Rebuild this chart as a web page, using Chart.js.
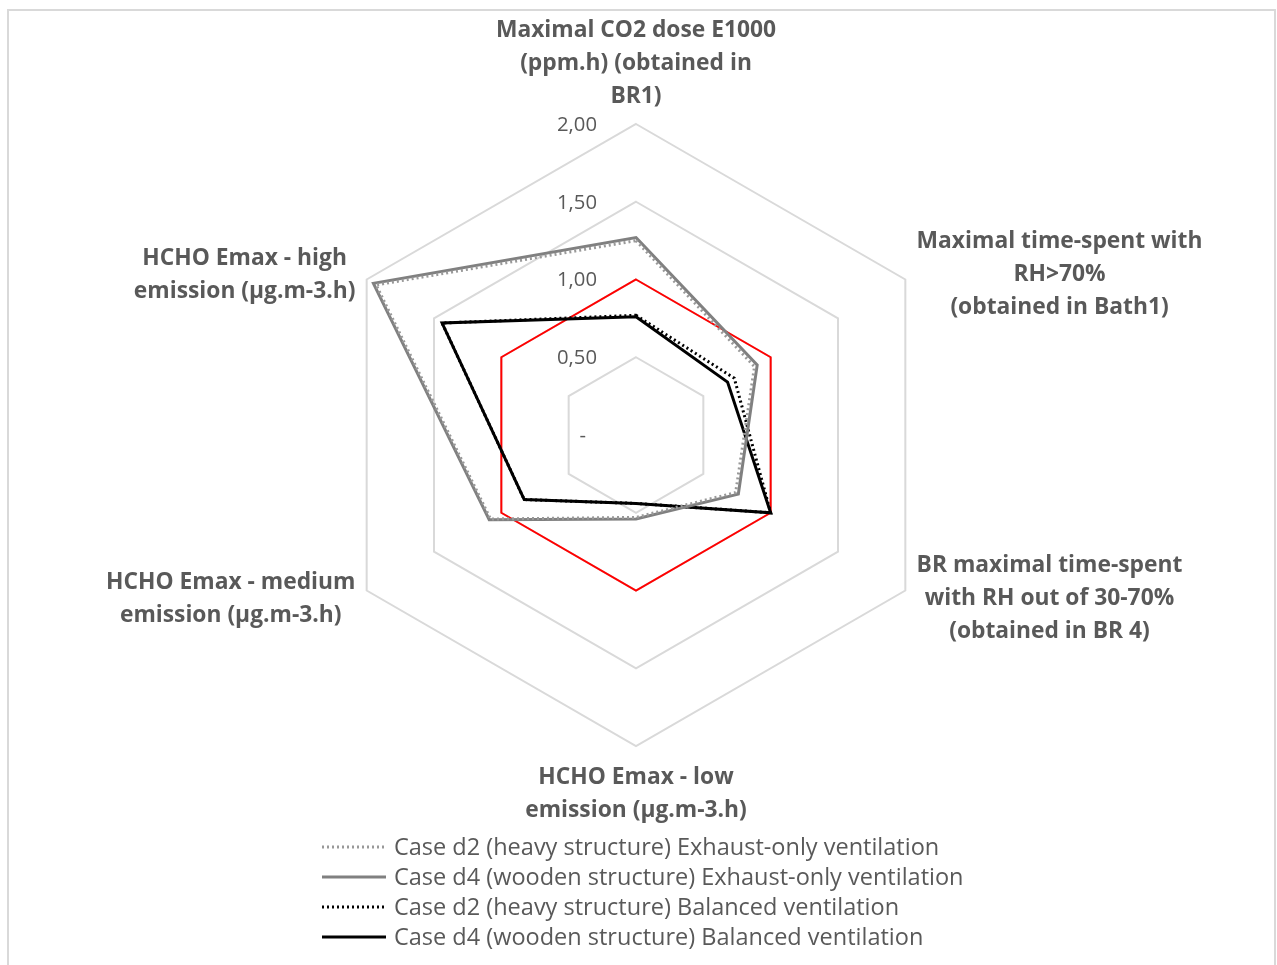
<!DOCTYPE html>
<html>
<head>
<meta charset="utf-8">
<script src="https://cdn.jsdelivr.net/npm/chart.js@4.4.1/dist/chart.umd.min.js"></script>
<style>
  html, body { margin: 0; padding: 0; background: #fff; }
  canvas { display: block; }
</style>
</head>
<body>
<canvas id="radar" width="1277" height="965"></canvas>
<script>
// eixos do radar (linhas quebradas como na figura)
const categories = [
  ['Maximal CO2 dose E1000', '(ppm.h) (obtained in', 'BR1)'],
  ['Maximal time-spent with', 'RH>70%', '(obtained in Bath1)'],
  ['BR maximal time-spent', 'with RH out of 30-70%', '(obtained in BR 4)'],
  ['HCHO Emax - low', 'emission (µg.m-3.h)'],
  ['HCHO Emax - medium', 'emission (µg.m-3.h)'],
  ['HCHO Emax - high', 'emission (µg.m-3.h)']
];

const seriesNames = [
  'Case d2 (heavy structure) Exhaust-only ventilation',
  'Case d4 (wooden structure) Exhaust-only ventilation',
  'Case d2 (heavy structure) Balanced ventilation',
  'Case d4 (wooden structure) Balanced ventilation'
];

// valores
const d2Exhaust  = [1.25, 0.88, 0.74, 0.53, 1.08, 1.93];
const d4Exhaust  = [1.27, 0.90, 0.76, 0.54, 1.09, 1.95];
const d2Balanced = [0.77, 0.73, 1.00, 0.44, 0.83, 1.44];
const d4Balanced = [0.76, 0.68, 1.00, 0.44, 0.83, 1.44];
const threshold  = [1, 1, 1, 1, 1, 1];

const tickValues = [0, 0.5, 1, 1.5, 2];
const tickLabels = ['-', '0,50', '1,00', '1,50', '2,00'];

const textColor = '#595959';
const fontFamily = '"Open Sans", Lato, sans-serif';

// acha o tamanho da fonte para o texto ficar com a largura da figura
function fitFont(c, weight, sample, target) {
  c.font = weight + ' 20px ' + fontFamily;
  const size = 20 * target / c.measureText(sample).width;
  return weight + ' ' + size.toFixed(1) + 'px ' + fontFamily;
}

// moldura cinza em volta do gráfico
const framePlugin = {
  id: 'frame',
  beforeDraw(chart) {
    const c = chart.ctx;
    c.save();
    c.fillStyle = '#fff';
    c.fillRect(0, 0, chart.width, chart.height);
    c.strokeStyle = '#d9d9d9';
    c.lineWidth = 2;
    c.strokeRect(8, 10, 1267, 980);
    c.restore();
  }
};

// rótulos dos eixos, ticks e legenda desenhados à mão
const labelsPlugin = {
  id: 'labels',
  afterDraw(chart) {
    const c = chart.ctx;
    const r = chart.scales.r;
    c.save();

    // ticks à esquerda do eixo vertical
    c.font = fitFont(c, 'normal', '2,00', 40);
    c.fillStyle = textColor;
    c.textAlign = 'right';
    c.textBaseline = 'middle';
    tickValues.forEach((v, i) => {
      const y = r.yCenter - r.getDistanceFromCenterForValue(v) + 1;
      c.fillText(tickLabels[i], i === 0 ? r.xCenter - 50 : r.xCenter - 39, y);
    });

    // nomes dos eixos
    const lh = 33;
    c.font = fitFont(c, 'bold', categories[0][0], 280);
    categories.forEach((lines, i) => {
      const p = r.getPointPosition(i, r.drawingArea + 13);
      const w = Math.max(...lines.map(t => c.measureText(t).width));
      const h = lines.length * lh;
      let cx, top;
      const a = p.angle;
      const cos = Math.cos(a);
      if (Math.abs(cos) < 0.01) {
        cx = p.x;
        top = Math.sin(a) < 0 ? p.y - h : p.y;
      } else {
        cx = cos > 0 ? p.x + w / 2 : p.x - w / 2;
        top = p.y - h / 2;
      }
      c.textAlign = 'center';
      lines.forEach((t, k) => c.fillText(t, cx, top + lh * k + lh / 2 + 2));
    });

    // legenda
    c.font = fitFont(c, 'normal', seriesNames[0], 546);
    c.textAlign = 'left';
    chart.data.datasets.slice(0, 4).forEach((ds, i) => {
      const y = 847 + i * 30;
      c.strokeStyle = ds.borderColor;
      c.lineWidth = ds.borderWidth;
      c.setLineDash(ds.borderDash || []);
      c.beginPath();
      c.moveTo(322, y);
      c.lineTo(386, y);
      c.stroke();
      c.setLineDash([]);
      c.fillStyle = textColor;
      c.fillText(ds.label, 394, y + 1);
    });
    c.restore();
  }
};

const ctx = document.getElementById('radar').getContext('2d');
new Chart(ctx, {
  type: 'radar',
  data: {
    labels: categories,
    datasets: [
      { label: seriesNames[0], data: d2Exhaust, borderColor: '#999999', borderWidth: 3, borderDash: [2, 3] },
      { label: seriesNames[1], data: d4Exhaust, borderColor: '#808080', borderWidth: 3 },
      { label: seriesNames[2], data: d2Balanced, borderColor: '#000000', borderWidth: 3, borderDash: [2, 3] },
      { label: seriesNames[3], data: d4Balanced, borderColor: '#000000', borderWidth: 3 },
      { label: 'limit', data: threshold, borderColor: '#ff0000', borderWidth: 2 }
    ]
  },
  options: {
    responsive: false,
    animation: false,
    layout: { padding: { left: 325, right: 330, top: 124, bottom: 219 } },
    elements: {
      point: { radius: 0, hoverRadius: 0 },
      line: { fill: false, tension: 0, borderJoinStyle: 'miter' }
    },
    plugins: {
      legend: { display: false },
      tooltip: { enabled: false }
    },
    scales: {
      r: {
        min: 0,
        max: 2,
        ticks: { stepSize: 0.5, display: false, showLabelBackdrop: false },
        grid: { color: '#d9d9d9', lineWidth: 2 },
        angleLines: { display: false },
        pointLabels: { display: false }
      }
    }
  },
  plugins: [framePlugin, labelsPlugin]
});
</script>
</body>
</html>
